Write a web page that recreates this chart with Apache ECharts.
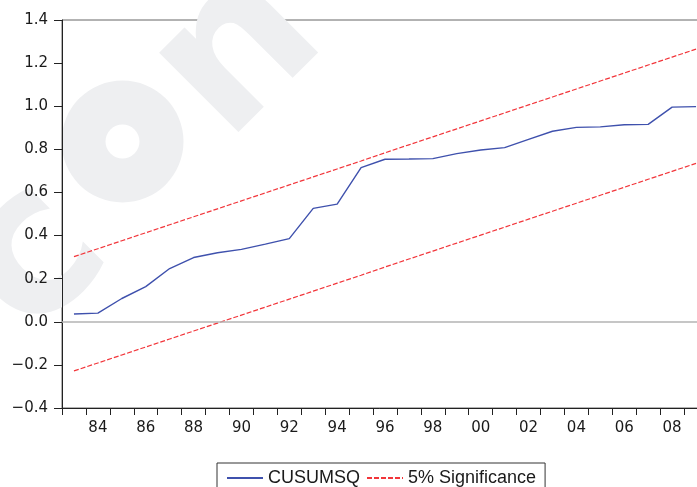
<!DOCTYPE html>
<html>
<head>
<meta charset="utf-8">
<script src="https://cdn.jsdelivr.net/npm/echarts@6/dist/echarts.min.js"></script>
<style>
  html, body { margin: 0; padding: 0; background: #fff; }
  #chart { width: 697px; height: 487px; }
</style>
</head>
<body>
<div id="chart"></div>
<script>
// years 1983..2009, shown as two-digit labels
const years = ['83', '84', '85', '86', '87', '88', '89', '90', '91', '92', '93', '94', '95', '96',
  '97', '98', '99', '00', '01', '02', '03', '04', '05', '06', '07', '08', '09'];

const cusumsq = [0.036, 0.040, 0.108, 0.163, 0.247, 0.298, 0.320, 0.336, 0.360, 0.386, 0.526, 0.546,
  0.715, 0.754, 0.755, 0.757, 0.780, 0.797, 0.808, 0.846, 0.884, 0.902, 0.904, 0.914, 0.916, 0.996, 0.998];

const upperBand = [0.302, 0.339, 0.376, 0.413, 0.450, 0.487, 0.524, 0.561, 0.598, 0.635, 0.672, 0.709,
  0.746, 0.784, 0.821, 0.858, 0.895, 0.932, 0.969, 1.006, 1.043, 1.080, 1.117, 1.154, 1.191, 1.228, 1.265];

const lowerBand = [-0.228, -0.191, -0.154, -0.117, -0.080, -0.043, -0.006, 0.031, 0.068, 0.105, 0.142, 0.179,
  0.216, 0.254, 0.291, 0.328, 0.365, 0.402, 0.439, 0.476, 0.513, 0.550, 0.587, 0.624, 0.661, 0.698, 0.735];

const yTicks = { min: -0.4, max: 1.4, step: 0.2 };

const BLUE = '#3f51ad';
const RED = '#f2353a';
const AXIS_FONT = { fontFamily: 'DejaVu Sans', fontSize: 15, color: '#1a1a1a' };
const MARK = '#eeeff1';

const chart = echarts.init(document.getElementById('chart'), null, { renderer: 'canvas' });

const dashed = { color: RED, width: 1.2, type: [5, 2] };

// faint watermark letters behind the plot, tilted up to the right
const wmLetter = (ch, x) => ({
  type: 'text', x, y: 22,
  style: {
    text: ch, fill: MARK, align: 'center', verticalAlign: 'middle',
    font: 'bold 205px "DejaVu Sans"'
  }
});

chart.setOption({
  animation: false,
  backgroundColor: '#fff',
  graphic: [
    {
      type: 'group', x: 122, y: 142, rotation: Math.PI / 4, z: -10, silent: true,
      children: [wmLetter('c', -145), wmLetter('n', 145)]
    },
    // the "o" of the watermark is a plain thick ring
    { type: 'ring', z: -10, silent: true, shape: { cx: 122.5, cy: 141.5, r: 61, r0: 17 }, style: { fill: MARK } }
  ],
  // plot runs past the right edge of the picture: last year sits right at the border
  grid: {
    left: 62, top: 20, width: 646, bottom: 79,
    outerBoundsMode: 'none',
    show: true, borderColor: '#666', borderWidth: 1, backgroundColor: 'transparent'
  },
  legend: {
    left: 217, top: 463,
    padding: [6, 9, 8, 9],
    borderColor: '#333', borderWidth: 1,
    itemWidth: 36, itemHeight: 10, itemGap: 6,
    itemStyle: { opacity: 0 },
    textStyle: { fontFamily: 'Liberation Sans', fontSize: 18, color: '#1a1a1a' },
    data: ['CUSUMSQ', '5% Significance']
  },
  xAxis: {
    type: 'category',
    data: years,
    boundaryGap: true,
    axisLine: { onZero: false, lineStyle: { color: '#222', width: 1 } },
    axisTick: { show: true, length: 7, interval: 0, lineStyle: { color: '#222' } },
    axisLabel: { ...AXIS_FONT, margin: 13, interval: (i) => i % 2 === 1 }
  },
  yAxis: {
    type: 'value',
    min: yTicks.min, max: yTicks.max, interval: yTicks.step,
    axisLine: { show: true, lineStyle: { color: '#222', width: 1 } },
    axisTick: { show: true, length: 8, lineStyle: { color: '#222' } },
    splitLine: { show: false },
    axisLabel: {
      ...AXIS_FONT, margin: 14,
      formatter: (v) => v.toFixed(1).replace('-', '\u2212')
    }
  },
  series: [
    {
      name: 'CUSUMSQ',
      type: 'line',
      data: cusumsq,
      symbol: 'none',
      z: 4,
      lineStyle: { color: BLUE, width: 1.4 },
      itemStyle: { color: BLUE },
      markLine: {
        silent: true,
        symbol: 'none',
        label: { show: false },
        lineStyle: { color: '#b3b3b3', width: 1.5, type: 'solid' },
        data: [{ yAxis: 0 }]
      }
    },
    {
      name: '5% Significance',
      type: 'line',
      data: upperBand,
      symbol: 'none',
      lineStyle: dashed,
      itemStyle: { color: RED }
    },
    {
      name: '5% Significance',
      type: 'line',
      data: lowerBand,
      symbol: 'none',
      lineStyle: dashed,
      itemStyle: { color: RED }
    }
  ]
});
</script>
</body>
</html>
